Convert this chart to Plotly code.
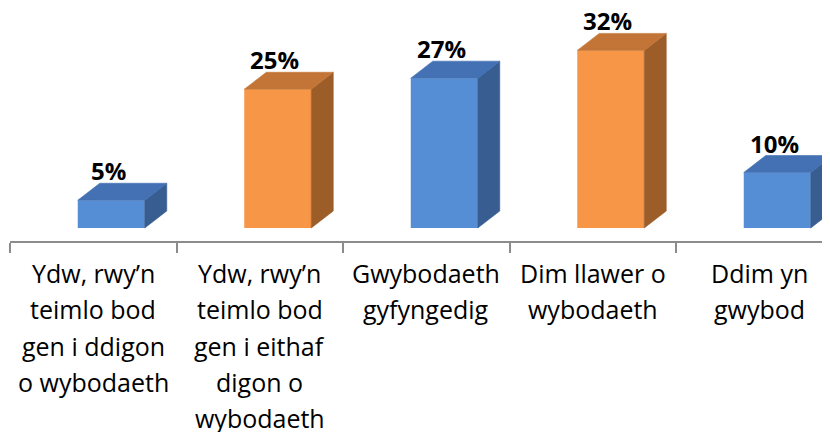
import plotly.graph_objects as go

categories = [
    "Ydw, rwy’n<br>teimlo bod<br>gen i ddigon<br>o wybodaeth",
    "Ydw, rwy’n<br>teimlo bod<br>gen i eithaf<br>digon o<br>wybodaeth",
    "Gwybodaeth<br>gyfyngedig",
    "Dim llawer o<br>wybodaeth",
    "Ddim yn<br>gwybod",
]
values = [5, 25, 27, 32, 10]
value_labels = ["5%", "25%", "27%", "32%", "10%"]
palette = ["blue", "orange", "blue", "orange", "blue"]

COL = {
    "blue": {"front": "#558ED5", "top": "#4371B4", "side": "#385D91"},
    "orange": {"front": "#F79646", "top": "#C27536", "side": "#9C5D28"},
}

# geometry (in axis units)
PX_X = 166.5   # px per category
PX_Y = 5.55    # px per percent
off = 18 / PX_X      # front face shift right of category centre
w = 67 / PX_X        # front face width
dx = 22 / PX_X       # depth x
dy = 17 / PX_Y       # depth y

fig = go.Figure()

for i, (v, c) in enumerate(zip(values, palette)):
    xc = i + off
    xl, xr = xc - w / 2, xc + w / 2
    # side face
    fig.add_trace(go.Scatter(
        x=[xr, xr + dx, xr + dx, xr, xr], y=[0, dy, v + dy, v, 0],
        fill="toself", fillcolor=COL[c]["side"], mode="lines",
        line=dict(width=0.6, color=COL[c]["side"]), hoverinfo="skip", showlegend=False))
    # top face
    fig.add_trace(go.Scatter(
        x=[xl, xl + dx, xr + dx, xr, xl], y=[v, v + dy, v + dy, v, v],
        fill="toself", fillcolor=COL[c]["top"], mode="lines",
        line=dict(width=0.6, color=COL[c]["top"]), hoverinfo="skip", showlegend=False))

fig.add_trace(go.Bar(
    x=[i + off for i in range(len(values))], y=values, width=w,
    marker=dict(color=[COL[c]["front"] for c in palette], line=dict(width=0)),
    hoverinfo="skip", showlegend=False))

annotations = []
for i, (v, t) in enumerate(zip(values, value_labels)):
    annotations.append(dict(
        x=i + off - 3 / PX_X, y=v + dy, xref="x", yref="y", text=t, showarrow=False,
        yanchor="middle", yshift=13, height=20,
        font=dict(family="Open Sans", size=24, color="#000000", weight="bold")))

for i, cat in enumerate(categories):
    for j, line in enumerate(cat.split("<br>")):
        annotations.append(dict(
            x=i, y=0, xref="x", yref="paper", text=line, showarrow=False,
            yanchor="top", yshift=-13 - 36.3 * j,
            font=dict(family="Open Sans", size=25, color="#000000")))

fig.update_layout(
    width=822, height=424,
    margin=dict(l=2, r=0, t=0, b=191),
    paper_bgcolor="white", plot_bgcolor="white",
    annotations=annotations,
    xaxis=dict(range=[-0.5, -0.5 + 820 / PX_X], tickvals=[-0.5, 0.5, 1.5, 2.5, 3.5, 4.5],
               showticklabels=False, ticks="outside", ticklen=10, tickwidth=2,
               tickcolor="#8C8C8C", showline=True, linecolor="#8C8C8C", linewidth=2,
               showgrid=False, zeroline=False),
    yaxis=dict(range=[-13 / PX_Y, 220 / PX_Y], visible=False, showgrid=False, zeroline=False),
)

fig.write_html("out.html")
